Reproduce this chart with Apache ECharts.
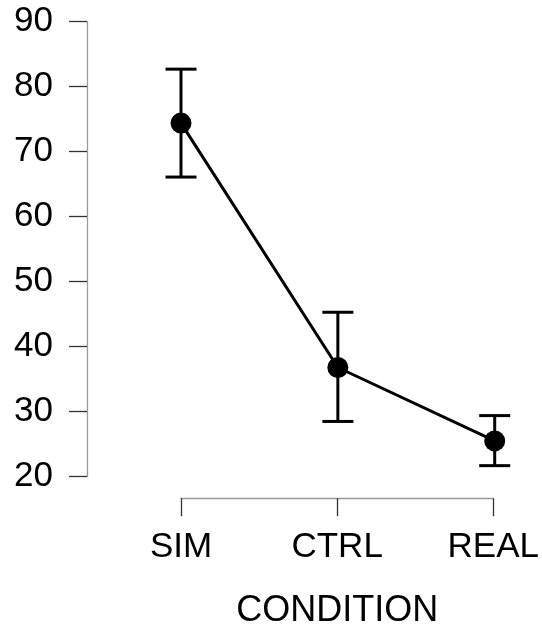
<!DOCTYPE html>
<html>
<head>
<meta charset="utf-8">
<script src="https://cdn.jsdelivr.net/npm/echarts@6/dist/echarts.min.js"></script>
<style>html,body{margin:0;padding:0;background:#fff;}#c{width:542px;height:629px;}</style>
</head>
<body>
<div id="c"></div>
<script>
var categories = ['SIM', 'CTRL', 'REAL'];
var means = [74.4, 36.8, 25.5];
var lows = [66.1, 28.5, 21.7];
var highs = [82.7, 45.3, 29.4];
var yTicks = [20, 30, 40, 50, 60, 70, 80, 90];
var xName = 'CONDITION';

var FONT = "'Liberation Sans', Arial, Helvetica, sans-serif";
var chart = echarts.init(document.getElementById('c'), null, {renderer: 'canvas'});
var errData = categories.map(function (c, i) { return [i, lows[i], highs[i]]; });

chart.setOption({
  animation: false,
  grid: [
    {left: 181, right: 47.3, top: 21.7, height: 455},
    {left: 181, right: 47.3, top: 498, height: 1}
  ],
  xAxis: [
    {gridIndex: 0, type: 'category', data: categories, boundaryGap: false, show: false},
    {gridIndex: 1, type: 'category', data: categories, boundaryGap: false, position: 'bottom',
     axisLine: {show: true, lineStyle: {color: '#999', width: 1.3}},
     axisTick: {show: true, length: 18, alignWithLabel: true, lineStyle: {color: '#333', width: 1.3}},
     axisLabel: {margin: 32, fontSize: 35, color: '#000', fontFamily: FONT, interval: 0},
     name: xName, nameLocation: 'middle', nameGap: 95,
     nameTextStyle: {fontSize: 36, color: '#000', fontFamily: FONT},
     splitLine: {show: false}}
  ],
  yAxis: [
    {gridIndex: 0, type: 'value', min: yTicks[0], max: yTicks[yTicks.length - 1], interval: 10,
     offset: 94,
     axisLine: {show: true, lineStyle: {color: '#999', width: 1.3}},
     axisTick: {show: true, length: 18, lineStyle: {color: '#333', width: 1.3}},
     axisLabel: {margin: 34, fontSize: 35, color: '#000', fontFamily: FONT},
     splitLine: {show: false}},
    {gridIndex: 1, type: 'value', show: false}
  ],
  series: [
    {
      type: 'custom', xAxisIndex: 0, yAxisIndex: 0, data: errData,
      renderItem: function (params, api) {
        var x = api.value(0);
        var lo = api.coord([x, api.value(1)]);
        var hi = api.coord([x, api.value(2)]);
        var hw = 15.5;
        var st = {stroke: '#000', lineWidth: 3};
        return {type: 'group', children: [
          {type: 'line', shape: {x1: lo[0], y1: lo[1], x2: hi[0], y2: hi[1]}, style: st},
          {type: 'line', shape: {x1: lo[0] - hw, y1: lo[1], x2: lo[0] + hw, y2: lo[1]}, style: st},
          {type: 'line', shape: {x1: hi[0] - hw, y1: hi[1], x2: hi[0] + hw, y2: hi[1]}, style: st}
        ]};
      },
      z: 2
    },
    {
      type: 'line', xAxisIndex: 0, yAxisIndex: 0, data: means,
      lineStyle: {color: '#000', width: 3},
      symbol: 'circle', symbolSize: 21,
      itemStyle: {color: '#000'},
      z: 3
    }
  ]
});
</script>
</body>
</html>
